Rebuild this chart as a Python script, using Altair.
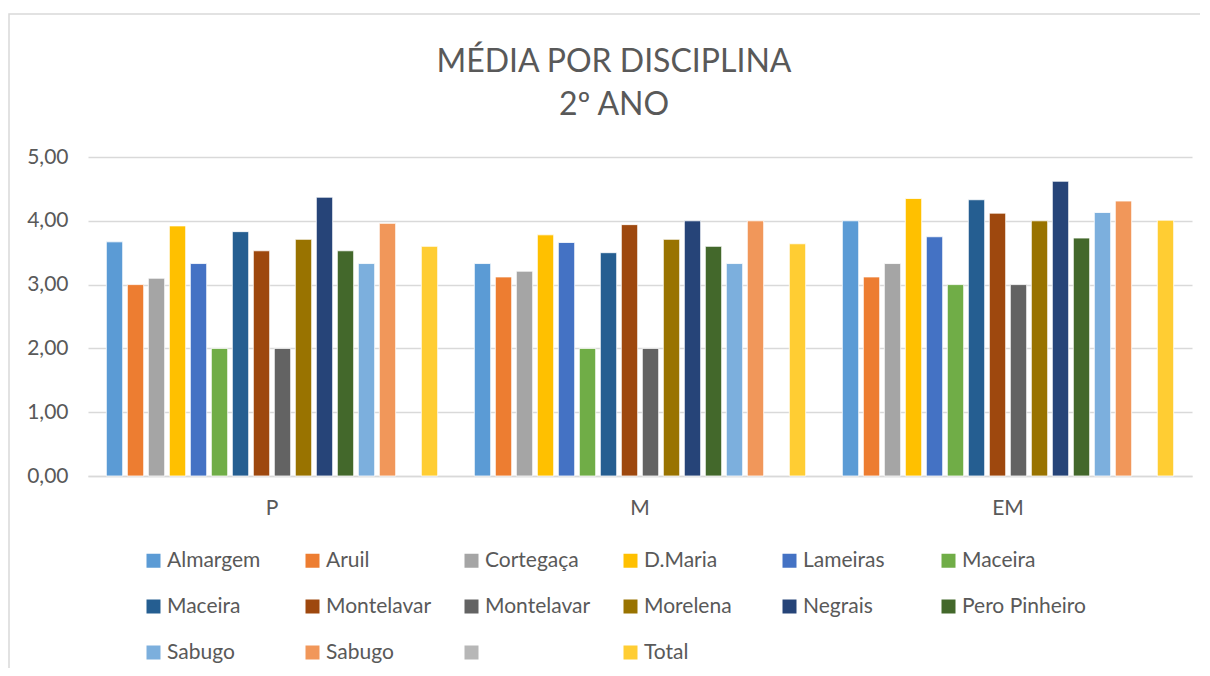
import altair as alt
import pandas as pd

title_lines = ["MÉDIA POR DISCIPLINA", "2º ANO"]
categories = ["P", "M", "EM"]
series_keys = ["Almargem", "Aruil", "Cortegaça", "D.Maria", "Lameiras", "Maceira",
               "Maceira ", "Montelavar", "Montelavar ", "Morelena", "Negrais", "Pero Pinheiro",
               "Sabugo", "Sabugo ", "  ", "Total"]
series_colors = ["#5B9BD5", "#ED7D31", "#A5A5A5", "#FFC000", "#4472C4", "#70AD47",
                 "#255E91", "#9E480E", "#636363", "#997300", "#264478", "#43682B",
                 "#7CAFDD", "#F1975A", "#B7B7B7", "#FFCD33"]

values_P = [3.67, 3.00, 3.10, 3.92, 3.33, 2.00, 3.83, 3.53, 2.00, 3.71, 4.37, 3.53, 3.33, 3.96, None, 3.60]
values_M = [3.33, 3.12, 3.21, 3.78, 3.66, 2.00, 3.50, 3.94, 2.00, 3.71, 4.00, 3.60, 3.33, 4.00, None, 3.64]
values_EM = [4.00, 3.12, 3.33, 4.35, 3.75, 3.00, 4.33, 4.12, 3.00, 4.00, 4.62, 3.73, 4.13, 4.31, None, 4.01]

y_ticks = [0, 1, 2, 3, 4, 5]

rows = []
for cat, vals in zip(categories, [values_P, values_M, values_EM]):
    for key, v in zip(series_keys, vals):
        if v is not None:
            rows.append({"cat": cat, "key": key, "value": v})
df = pd.DataFrame(rows)

W, H = 1104, 319
FONT = "Lato"
GREY = "#595959"

bars = alt.Chart(df).mark_bar(stroke="white", strokeWidth=0.8).encode(
    x=alt.X("cat:N", sort=categories, title=None,
            scale=alt.Scale(paddingInner=0.087, paddingOuter=0.0435),
            axis=alt.Axis(labelAngle=0, ticks=False, domain=True, domainColor="#D9D9D9",
                          domainWidth=1.5, labelFontSize=21, labelColor=GREY, labelFont=FONT,
                          labelPadding=21, grid=False)),
    xOffset=alt.XOffset("key:N", sort=series_keys,
                        scale=alt.Scale(domain=series_keys, paddingInner=0.22, paddingOuter=0.11)),
    y=alt.Y("value:Q", title=None, scale=alt.Scale(domain=[0, 5]),
            axis=alt.Axis(values=y_ticks, ticks=False, domain=False, gridColor="#D9D9D9",
                          gridWidth=1.5, labelFontSize=21, labelColor=GREY, labelFont=FONT,
                          labelPadding=20,
                          labelExpr="replace(format(datum.value, '.2f'), '.', ',')")),
    color=alt.Color("key:N", sort=series_keys,
                    scale=alt.Scale(domain=series_keys, range=series_colors),
                    legend=alt.Legend(title=None, orient="none", legendX=55, legendY=393,
                                      direction="horizontal",
                                      columns=6, gridAlign="all", symbolType="square",
                                      symbolSize=196, symbolStrokeWidth=0, labelFontSize=21,
                                      labelFont=FONT, labelColor=GREY, labelOffset=3,
                                      columnPadding=11, rowPadding=24, labelLimit=300,
                                      padding=0)),
)

frame = alt.Chart(pd.DataFrame({"a": [0]})).mark_rect(
    fillOpacity=0, stroke="#D9D9D9", strokeWidth=1.5, clip=False
).encode(x=alt.value(-79), x2=alt.value(W + 40), y=alt.value(-143), y2=alt.value(H + 260))

title = alt.Chart(pd.DataFrame({"t": ["\n".join(title_lines)]})).mark_text(
    font=FONT, fontSize=32, color=GREY, align="center", baseline="alphabetic",
    lineBreak="\n", lineHeight=43
).encode(text="t:N", x=alt.value(526), y=alt.value(-85))

chart = alt.layer(frame, bars, title).properties(
    width=W, height=H,
    padding={"left": 80, "top": 149, "right": 8, "bottom": 192},
    autosize=alt.AutoSizeParams(type="none"),
).configure_view(stroke=None)

chart.save("out.html", embed_options={"renderer": "svg", "actions": False})
